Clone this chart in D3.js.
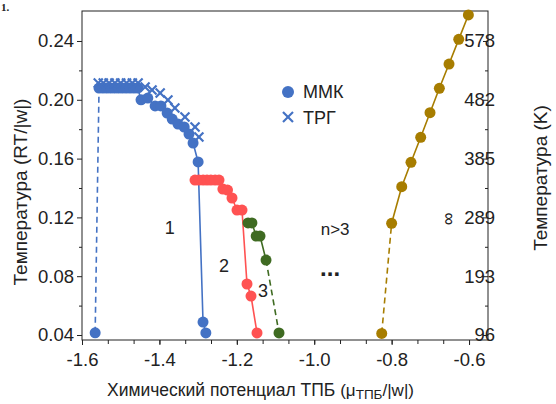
<!DOCTYPE html>
<html><head><meta charset="utf-8">
<script src="https://cdn.jsdelivr.net/npm/d3@7"></script>
<style>
body{margin:0;background:#fff;}
svg text{font-family:"Liberation Sans",Arial,sans-serif;fill:#222;}
</style></head>
<body><svg id="c" width="556" height="404"></svg>
<script>
// ---- data ----
const mmkX = [-1.566,-1.556,-1.546,-1.536,-1.526,-1.516,-1.506,-1.496,-1.486,-1.476,-1.466,-1.456,-1.4475,-1.43,-1.411,-1.396,-1.38,-1.367,-1.352,-1.336,-1.3235,-1.313,-1.300,-1.2873,-1.280];
const mmkY = [0.0415,0.208,0.208,0.208,0.208,0.208,0.208,0.208,0.208,0.208,0.208,0.208,0.200,0.2012,0.1958,0.1958,0.191,0.1869,0.1835,0.1815,0.1767,0.1706,0.1577,0.0488,0.0414];
const tpgX = [-1.558,-1.545,-1.53,-1.515,-1.50,-1.485,-1.47,-1.455,-1.437,-1.419,-1.398,-1.378,-1.36,-1.334,-1.308,-1.298];
const tpgY = [0.2114,0.2114,0.2114,0.2114,0.2114,0.2114,0.2114,0.2114,0.2087,0.2067,0.2046,0.1999,0.1944,0.1883,0.1815,0.1747];
const n2X = [-1.308,-1.298,-1.287,-1.277,-1.267,-1.256,-1.246,-1.236,-1.224,-1.2124,-1.1995,-1.1866,-1.1737,-1.1633,-1.1478];
const n2Y = [0.1454,0.1454,0.1454,0.1454,0.1454,0.1454,0.1454,0.1393,0.1386,0.1332,0.125,0.125,0.0747,0.0665,0.0414];
const n3X = [-1.171,-1.161,-1.150,-1.140,-1.1245,-1.091];
const n3Y = [0.1162,0.1162,0.1073,0.1073,0.091,0.0414];
const infX = [-0.8256,-0.800,-0.7739,-0.750,-0.7249,-0.7008,-0.6767,-0.6517,-0.6266,-0.6017];
const infY = [0.0411,0.116,0.1409,0.1575,0.1745,0.1912,0.2078,0.2243,0.2411,0.2577];
const xTicks = [-1.6,-1.4,-1.2,-1.0,-0.8,-0.6];
const xTickLabels = ["-1.6","-1.4","-1.2","-1.0","-0.8","-0.6"];
const yTicks = [0.04,0.08,0.12,0.16,0.20,0.24];
const yTickLabels = ["0.04","0.08","0.12","0.16","0.20","0.24"];
const yRightLabels = ["96","193","289","385","482","578"];
const legendNames = ["ММК","ТРГ"];

// ---- layout ----
const svg = d3.select("#c");
const L=82, R=488, T=11, B=340;
const x = d3.scaleLinear().domain([-1.6,-0.551]).range([L,R]);
const y = d3.scaleLinear().domain([0.0366,0.2604]).range([B,T]);
const TF = 18.5;

const cBlue="#4472c4", cRed="#ff5252", cGreen="#3f6b22", cGold="#a77d00";

// frame
svg.append("rect").attr("x",L).attr("y",T).attr("width",R-L).attr("height",B-T)
  .attr("fill","none").attr("stroke","#222").attr("stroke-width",1);

// x axis
const xMinor = d3.range(0,16).map(k=>-1.6+k*0.2/3).filter(v=>v<=-0.551);
const gx = svg.append("g").attr("transform",`translate(0,${B})`);
gx.call(d3.axisBottom(x).tickValues(xMinor).tickSize(4).tickFormat(""));
gx.append("g").call(d3.axisBottom(x).tickValues(xTicks).tickSize(5).tickFormat((d,i)=>xTickLabels[i]));
gx.selectAll("path.domain").remove();
gx.selectAll("line").attr("stroke","#222");
gx.selectAll("text").attr("font-size",TF).attr("fill","#222").attr("dy","0.95em");

// left y axis
const yMinor = d3.range(0.06,0.25,0.04);
const gy = svg.append("g").attr("transform",`translate(${L},0)`);
gy.call(d3.axisLeft(y).tickValues(yMinor).tickSize(3).tickFormat(""));
gy.append("g").call(d3.axisLeft(y).tickValues(yTicks).tickSize(5).tickFormat((d,i)=>yTickLabels[i]));
gy.selectAll("path.domain").remove();
gy.selectAll("line").attr("stroke","#222");
gy.selectAll("text").attr("font-size",TF).attr("fill","#222");

// right y axis (inward ticks)
const gr = svg.append("g").attr("transform",`translate(${R},0)`);
gr.call(d3.axisLeft(y).tickValues(yMinor).tickSize(3).tickFormat(""));
gr.append("g").call(d3.axisLeft(y).tickValues(yTicks).tickSize(5).tickFormat(""));
gr.selectAll("path.domain").remove();
gr.selectAll("line").attr("stroke","#222");
gr.selectAll("text.rl").data(yTicks).enter().append("text").attr("class","rl")
  .attr("x",7).attr("y",d=>y(d)).attr("dy","0.35em").attr("font-size",TF)
  .text((d,i)=>yRightLabels[i]);

// helpers
function pts(X,Y){return X.map((v,i)=>[v,Y[i]]);}
const line = d3.line().x(d=>x(d[0])).y(d=>y(d[1]));
function seg(data,color,dashed){
  svg.append("path").attr("d",line(data)).attr("fill","none").attr("stroke",color)
    .attr("stroke-width",1.6).attr("stroke-dasharray",dashed?"6,4":null);
}
function dots(data,color,r){
  svg.append("g").selectAll("circle").data(data).enter().append("circle")
    .attr("cx",d=>x(d[0])).attr("cy",d=>y(d[1])).attr("r",r).attr("fill",color);
}
function crosses(data,color,s){
  const g=svg.append("g").attr("stroke",color).attr("stroke-width",2.2);
  data.forEach(d=>{
    const cx=x(d[0]), cy=y(d[1]);
    g.append("line").attr("x1",cx-s).attr("y1",cy-s).attr("x2",cx+s).attr("y2",cy+s);
    g.append("line").attr("x1",cx-s).attr("y1",cy+s).attr("x2",cx+s).attr("y2",cy-s);
  });
}

const mmk=pts(mmkX,mmkY), tpg=pts(tpgX,tpgY), n2=pts(n2X,n2Y), n3=pts(n3X,n3Y), inf=pts(infX,infY);
// blue
seg(mmk.slice(0,2),cBlue,true);
seg(mmk.slice(1),cBlue,false);
// red
seg(n2,cRed,false);
// green
seg(n3.slice(0,n3.length-1),cGreen,false);
seg(n3.slice(n3.length-2),cGreen,true);
// gold
seg(inf.slice(0,2),cGold,true);
seg(inf.slice(1),cGold,false);

dots(mmk,cBlue,5.5);
crosses(tpg,cBlue,4.5);
dots(n2,cRed,5.5);
dots(n3,cGreen,5.5);
dots(inf,cGold,5.5);

// legend
svg.append("circle").attr("cx",288).attr("cy",92).attr("r",6).attr("fill",cBlue);
crosses([[x.invert(288),y.invert(117)]],cBlue,5);
svg.append("text").attr("x",303).attr("y",98).attr("font-size",18).text(legendNames[0]);
svg.append("text").attr("x",303).attr("y",124).attr("font-size",18).text(legendNames[1]);

// annotations
function ann(t,xv,yv,fs,extra){
  const e=svg.append("text").attr("x",x(xv)).attr("y",y(yv)).attr("font-size",fs)
    .attr("text-anchor","middle").attr("dy","0.35em").text(t);
  if(extra) extra(e);
}
ann("1",-1.373,0.1128,18);
ann("2",-1.233,0.0869,18);
ann("3",-1.132,0.070,18);
ann("n>3",-0.946,0.112,17);
ann("...",-0.959,0.086,24,e=>e.attr("font-weight","bold"));
ann("∞",-0.654,0.119,18,e=>{const cx=x(-0.654),cy=y(0.119);e.attr("transform",`rotate(-90,${cx},${cy})`);});

// axis titles
svg.append("text").attr("transform","translate(27,192) rotate(-90)").attr("text-anchor","middle")
  .attr("font-size",19).text("Температура (RT/|w|)");
svg.append("text").attr("transform","translate(547,178) rotate(-90)").attr("text-anchor","middle")
  .attr("font-size",19).text("Температура (K)");
const xt = svg.append("text").attr("x",107).attr("y",396).attr("text-anchor","start").attr("font-size",17.5);
xt.append("tspan").text("Химический потенциал ТПБ ");
xt.append("tspan").attr("font-size",17).text("(μ");
xt.append("tspan").attr("font-size",13.5).attr("dy",3).text("ТПБ");
xt.append("tspan").attr("font-size",17).attr("dy",-3).text("/|w|)");

// cropped fragment at top-left
svg.append("text").attr("x",1).attr("y",11).attr("font-size",11).attr("font-weight","bold")
  .style("font-family","'Liberation Serif',serif").text("1.");
</script></body></html>
